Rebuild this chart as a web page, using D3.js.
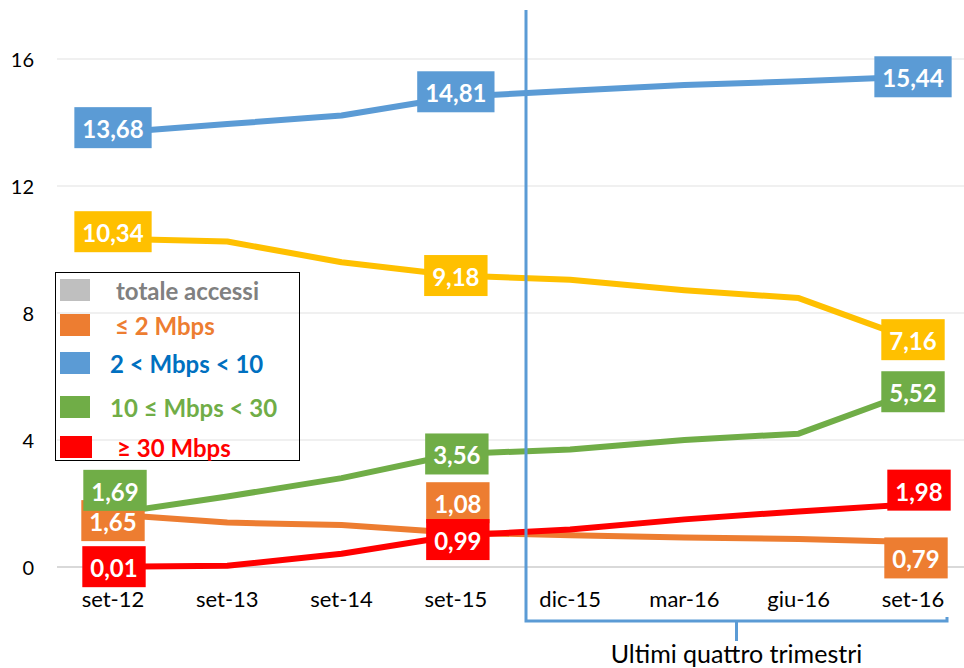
<!DOCTYPE html>
<html>
<head>
<meta charset="utf-8">
<script src="https://cdn.jsdelivr.net/npm/d3@7"></script>
<style>
  body { margin:0; background:#fff; }
  svg { display:block; font-family: Lato, "Open Sans", sans-serif; }
</style>
</head>
<body>
<svg id="main_view_svg" width="964" height="668"></svg>
<script>
// DATA

var quarters = ["set-12","set-13","set-14","set-15","dic-15","mar-16","giu-16","set-16"];
var y_ticks = [0,4,8,12,16];

var mbps_2_10   = [13.68, 13.95, 14.22, 14.81, 15.00, 15.18, 15.30, 15.44];
var yellow_vals = [10.34, 10.25, 9.60, 9.18, 9.05, 8.72, 8.47, 7.16];
var mbps_10_30  = [1.69, 2.22, 2.80, 3.56, 3.70, 4.00, 4.20, 5.52];
var mbps_le_2   = [1.65, 1.40, 1.32, 1.08, 1.00, 0.93, 0.88, 0.79];
var mbps_ge_30  = [0.01, 0.04, 0.42, 0.99, 1.18, 1.50, 1.75, 1.98];

var legend_names = ["totale accessi","\u2264 2 Mbps","2 < Mbps < 10","10 \u2264 Mbps < 30","\u2265 30 Mbps"];

var bracket_label = "Ultimi quattro trimestri";

// SERIES (draw order)
var series = [
  {key:"orange", values: mbps_le_2,  color:"#ED7D31"},
  {key:"yellow", values: yellow_vals, color:"#FFC000"},
  {key:"blue",   values: mbps_2_10,  color:"#5B9BD5"},
  {key:"green",  values: mbps_10_30, color:"#70AD47"},
  {key:"red",    values: mbps_ge_30, color:"#FF0000"}
];

// which points get a value box, and how far the box sits from the point
var label_spots = [
  {key:"orange", i:0, dx:0,  dy:6},
  {key:"orange", i:3, dx:2,  dy:-30},
  {key:"orange", i:7, dx:3,  dy:16},
  {key:"yellow", i:0, dx:0,  dy:-7},
  {key:"yellow", i:3, dx:0,  dy:0},
  {key:"yellow", i:7, dx:0,  dy:0},
  {key:"blue",   i:0, dx:0,  dy:-5},
  {key:"blue",   i:3, dx:0,  dy:-5},
  {key:"blue",   i:7, dx:0,  dy:0},
  {key:"green",  i:0, dx:2,  dy:-23},
  {key:"green",  i:3, dx:1,  dy:0},
  {key:"green",  i:7, dx:0,  dy:0},
  {key:"red",    i:0, dx:1,  dy:0},
  {key:"red",    i:3, dx:2,  dy:4},
  {key:"red",    i:7, dx:6,  dy:-14}
];

// RENDERING

var svg = d3.select("#main_view_svg");

var x = d3.scalePoint().domain(quarters).range([113, 913]);
var y = d3.scaleLinear().domain([0,16]).range([567, 59]);

// grid
svg.append("g").selectAll("line")
  .data(y_ticks)
  .enter().append("line")
    .attr("x1", 57).attr("x2", 964)
    .attr("y1", function(d){ return y(d); })
    .attr("y2", function(d){ return y(d); })
    .attr("stroke", function(d){ return d === 0 ? "#D9D9D9" : "#F0F0F0"; })
    .attr("stroke-width", 2);

// y axis labels
svg.append("g").selectAll("text")
  .data(y_ticks)
  .enter().append("text")
    .attr("x", 34)
    .attr("y", function(d){ return y(d); })
    .attr("text-anchor","end")
    .attr("dominant-baseline","central")
    .style("font-size","20px")
    .attr("fill","#000")
    .text(function(d){ return d; });

// x axis labels
svg.append("g").selectAll("text")
  .data(quarters)
  .enter().append("text")
    .attr("x", function(d){ return x(d); })
    .attr("y", 607)
    .attr("text-anchor","middle")
    .style("font-size","22px")
    .attr("fill","#000")
    .text(function(d){ return d; });

// lines
var line = d3.line()
  .x(function(d,i){ return x(quarters[i]); })
  .y(function(d){ return y(d); });

svg.append("g").selectAll("path")
  .data(series)
  .enter().append("path")
    .attr("d", function(s){ return line(s.values); })
    .attr("fill","none")
    .attr("stroke", function(s){ return s.color; })
    .attr("stroke-width", 6)
    .attr("stroke-linejoin","round");

// value boxes
var fmt = function(v){ return d3.format(".2f")(v).replace(".", ","); };
var lab_g = svg.append("g");
var order = ["orange","yellow","blue","green","red"];
order.forEach(function(k){
  var s = series.filter(function(d){ return d.key === k; })[0];
  label_spots.filter(function(p){ return p.key === k; }).forEach(function(p){
    var cx = x(quarters[p.i]) + p.dx;
    var cy = y(s.values[p.i]) + p.dy;
    var g = lab_g.append("g");
    var rect = g.append("rect").attr("fill", s.color);
    var t = g.append("text")
      .attr("x", cx).attr("y", cy + 1)
      .attr("text-anchor","middle")
      .attr("dominant-baseline","central")
      .attr("fill","#fff")
      .style("font-size","24px")
      .style("font-weight","bold")
      .text(fmt(s.values[p.i]));
    var w = t.node().getComputedTextLength() + 16;
    rect.attr("x", cx - w/2).attr("y", cy - 20.5)
      .attr("width", w).attr("height", 41);
  });
});

// legend
var legend_colors = ["#BFBFBF","#ED7D31","#5B9BD5","#70AD47","#FF0000"];
var legend_text_colors = ["#808080","#ED7D31","#0070C0","#70AD47","#FF0000"];
var legend_rows = [290, 325, 363, 407, 447];
var legend_text_x = [116, 115, 110, 110, 117];

var legend = svg.append("g");
legend.append("rect")
  .attr("x", 55.5).attr("y", 272.5)
  .attr("width", 244).attr("height", 188)
  .attr("fill","none")
  .attr("stroke","#000")
  .attr("stroke-width", 1);

legend_names.forEach(function(n,i){
  legend.append("rect")
    .attr("x", 60).attr("y", legend_rows[i] - 11)
    .attr("width", i === 4 ? 32 : 30).attr("height", 22)
    .attr("fill", legend_colors[i]);
  legend.append("text")
    .attr("x", legend_text_x[i]).attr("y", legend_rows[i])
    .attr("dominant-baseline","central")
    .attr("fill", legend_text_colors[i])
    .style("font-size","24px")
    .style("font-weight","bold")
    .text(n);
});

// bracket for the last four quarters
var br = svg.append("g")
  .attr("fill","none")
  .attr("stroke","#5B9BD5")
  .attr("stroke-width", 3);
var bx0 = (x("set-15") + x("dic-15"))/2 + 13;
var bx1 = x("set-16") + 34;
var bmid = (bx0 + bx1)/2;
br.append("path")
  .attr("d", "M" + bx0 + ",10 V621 H" + bx1 + " V617");
br.append("line")
  .attr("x1", bmid).attr("x2", bmid)
  .attr("y1", 621).attr("y2", 641);

svg.append("text")
  .attr("x", bmid).attr("y", 663)
  .attr("text-anchor","middle")
  .style("font-size","25px")
  .attr("fill","#000")
  .text(bracket_label);
</script>
</body>
</html>
